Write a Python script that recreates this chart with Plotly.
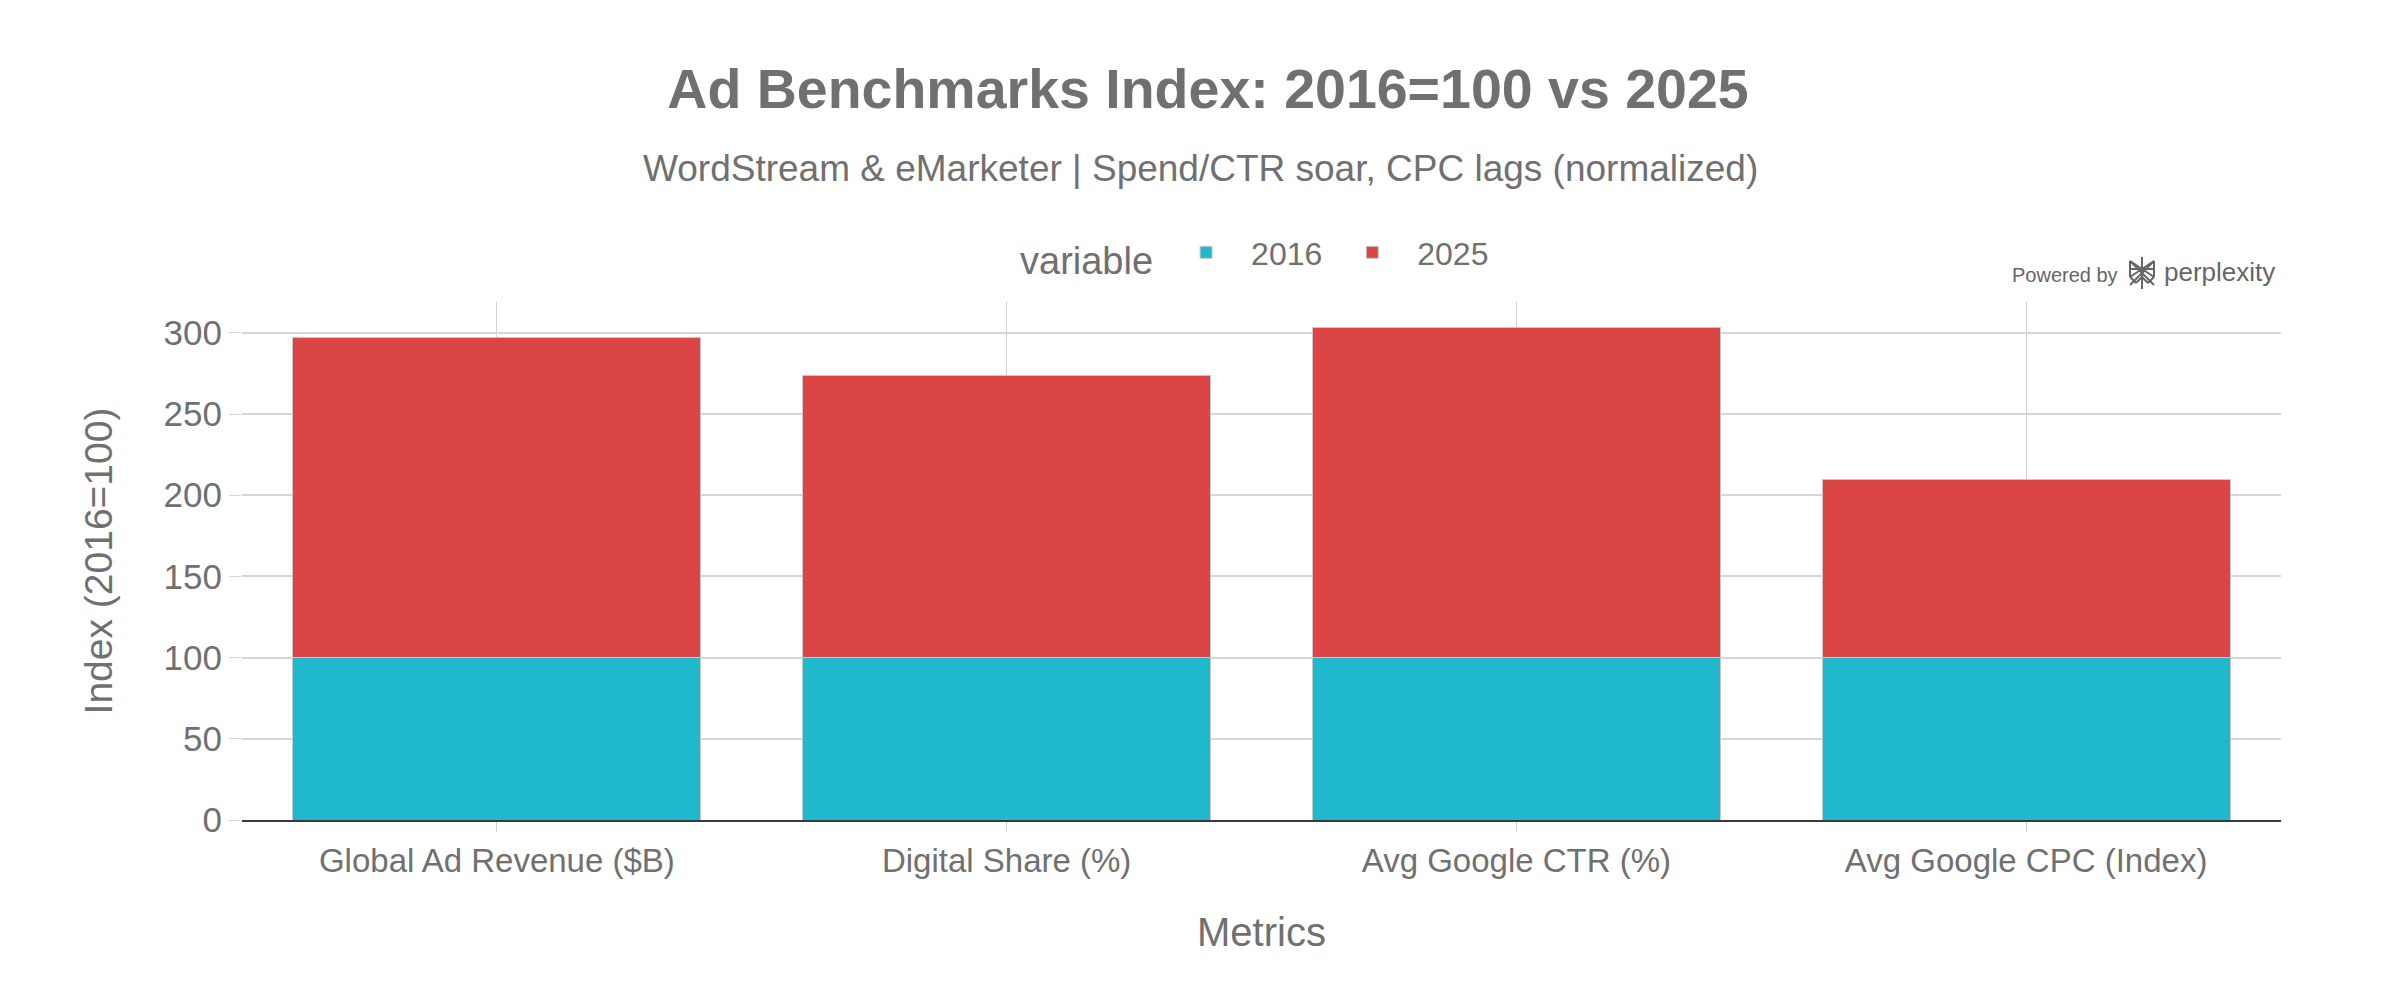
import plotly.graph_objects as go

categories = ["Global Ad Revenue ($B)", "Digital Share (%)", "Avg Google CTR (%)", "Avg Google CPC (Index)"]
series_names = ["2016", "2025"]
values_2016 = [100, 100, 100, 100]
values_2025 = [197, 174, 203, 110]  # stacked on top of the 2016 base
colors = ["#1FB8CD", "#DB4545"]

TEXT = "#707070"
FONT = "Liberation Sans, Arial, sans-serif"

fig = go.Figure()
for name, vals, col in zip(series_names, [values_2016, values_2025], colors):
    fig.add_trace(go.Bar(
        x=categories, y=vals, name=name,
        marker=dict(color=col, line=dict(color="#c8c8c8", width=1)),
    ))

OFF = 8  # page body margin offset
W, H = 2400, 1000
ml, mr, mt, mb = 242 - OFF, 119 + OFF, 302 - OFF, 180 + OFF
ph = H - mt - mb
pw = W - ml - mr

def py(px):
    return (H - mb - (px - OFF)) / ph

def pxp(px):
    return ((px - OFF) - ml) / pw

fig.update_layout(
    width=W, height=H,
    barmode="stack", bargap=0.2,
    paper_bgcolor="white", plot_bgcolor="white",
    font=dict(family=FONT, color=TEXT, size=32),
    margin=dict(l=ml, r=mr, t=mt, b=mb),
    title=dict(
        text="<b>Ad Benchmarks Index: 2016=100 vs 2025</b>",
        font=dict(size=55.5, color=TEXT, family=FONT),
        x=0.5, xanchor="center", y=1 - (89 - OFF) / H, yanchor="middle",
    ),
    legend=dict(
        orientation="h", traceorder="normal",
        x=pxp(1256), xanchor="center", y=py(255), yanchor="middle",
        title=dict(text="variable", font=dict(size=38, color=TEXT)),
        font=dict(size=32, color=TEXT),
        itemwidth=80,
    ),
    xaxis=dict(
        title=dict(text="Metrics", font=dict(size=40, color=TEXT), standoff=40),
        showgrid=True, gridcolor="#d0d0d0", gridwidth=1,
        showline=True, linecolor="#3a3a3a", linewidth=2,
        ticks="outside", ticklen=10, tickcolor="#d0d0d0",
        tickfont=dict(size=33, color=TEXT),
    ),
    yaxis=dict(
        title=dict(text="Index (2016=100)", font=dict(size=39, color=TEXT), standoff=38),
        showgrid=True, gridcolor="#d6d6d6", gridwidth=2,
        zeroline=False, showline=False,
        ticks="outside", ticklen=12, tickcolor="#d6d6d6",
        tickfont=dict(size=35, color=TEXT),
        tickvals=[0, 50, 100, 150, 200, 250, 300],
        range=[0, 319],
    ),
)

fig.add_annotation(
    text="WordStream &amp; eMarketer | Spend/CTR soar, CPC lags (normalized)",
    xref="paper", yref="paper", x=pxp(1200), y=py(168), xanchor="center", yanchor="middle",
    showarrow=False, font=dict(size=37, color=TEXT, family=FONT),
)

# "Powered by perplexity" badge
fig.add_annotation(
    text="Powered by", xref="paper", yref="paper", x=pxp(2120), y=py(275),
    xanchor="right", yanchor="middle", showarrow=False,
    font=dict(size=20, color="#666666", family=FONT),
)
fig.add_annotation(
    text="perplexity", xref="paper", yref="paper", x=pxp(2162), y=py(272),
    xanchor="left", yanchor="middle", showarrow=False,
    font=dict(size=26, color="#666666", family=FONT),
)
cx, cy = pxp(2142), py(273)
icon_lines = [
    (0, -16, 0, 16),
    (-12, -12, 12, 12), (12, -12, -12, 12),
    (-12, -12, -12, 4), (12, -12, 12, 4),
    (-12, -4, 12, -4), (-12, 4, 0, -4), (12, 4, 0, -4),
    (-12, 4, -6, 10), (12, 4, 6, 10), (-6, 10, 0, 4), (6, 10, 0, 4),
    (-12, -12, 0, -4), (12, -12, 0, -4),
]
for x0, y0, x1, y1 in icon_lines:
    fig.add_shape(
        type="line", xref="paper", yref="paper",
        xsizemode="pixel", ysizemode="pixel", xanchor=cx, yanchor=cy,
        x0=x0, x1=x1, y0=-y0, y1=-y1,
        line=dict(color="#666666", width=2),
    )

fig.write_html("out.html")
